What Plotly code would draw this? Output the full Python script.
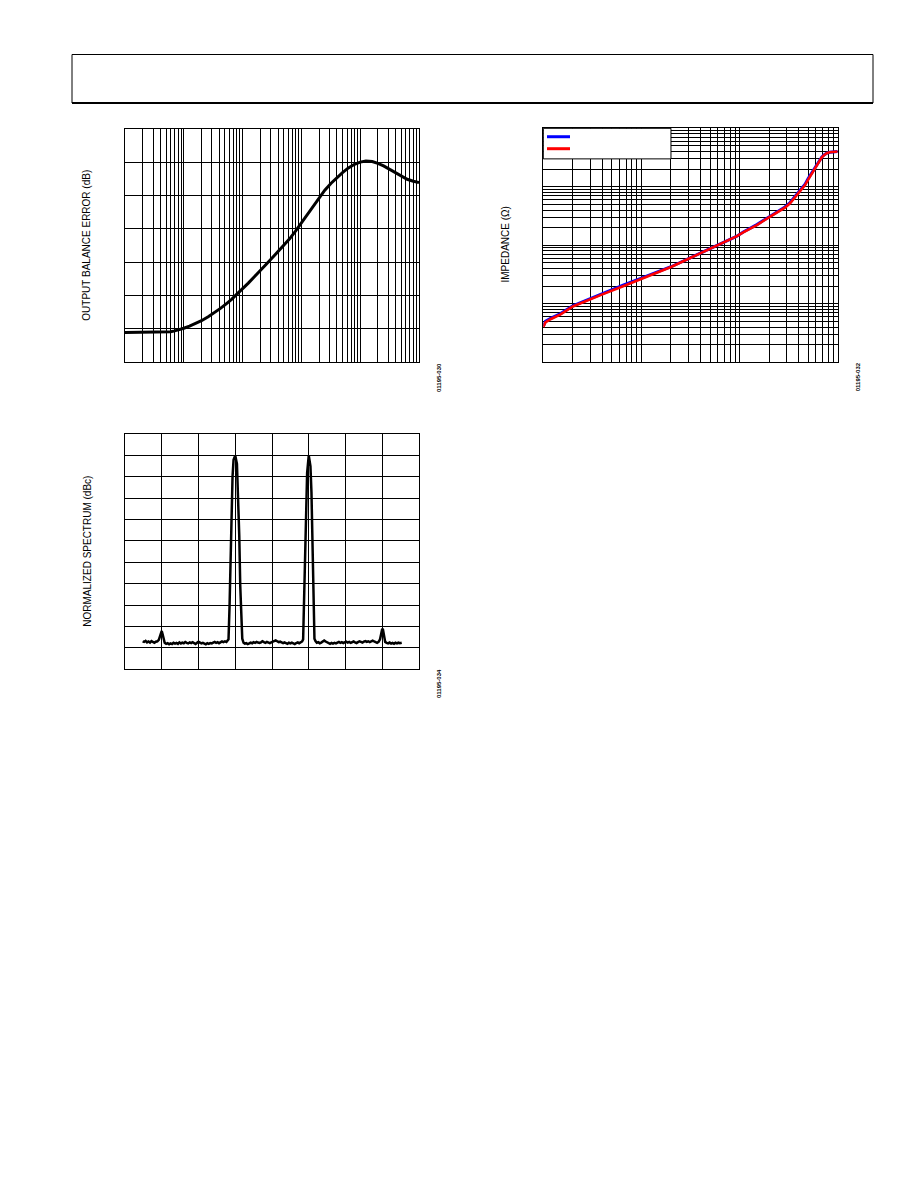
import math
import plotly.graph_objects as go

W, H = 918, 1188

# ---------------- Chart 1: output balance error vs frequency ----------------
bal_freq_mhz = [0.1, 0.2, 0.4, 0.5, 0.6, 0.7, 0.85, 1.0, 1.25, 1.6, 2.0, 2.6, 3.3, 4.2,
                5.2, 6.5, 8.0, 10, 12.5, 16, 20, 25, 32, 40, 50, 63, 80, 100, 125, 160,
                200, 250, 320, 400, 500, 630, 800, 1000, 1250, 1600, 2000, 2500, 3200,
                4000, 5000, 6300, 8000, 10000]
bal_err_db = [-61.1, -61.1, -61.1, -61.05, -60.9, -60.65, -60.25, -59.85, -59.2, -58.4,
              -57.6, -56.4, -55.2, -53.9, -52.6, -51.2, -49.6, -48.0, -46.3, -44.3,
              -42.6, -40.7, -38.7, -36.9, -35.1, -33.0, -30.6, -28.2, -25.8, -23.0,
              -20.6, -18.4, -16.3, -14.6, -13.1, -11.7, -10.6, -9.95, -9.6, -9.75,
              -10.3, -11.1, -12.2, -13.3, -14.3, -15.1, -15.7, -16.1]
bal_x_range = [0.1, 10000]
bal_y_range = [-70, 0]

# ---------------- Chart 2: impedance vs frequency ----------------
imp_freq_mhz = [0.1, 0.105, 0.12, 0.15, 0.2, 0.28, 0.4, 0.65, 1.0, 1.4, 2.0, 3.1, 4.6,
                6.8, 9.3, 10.9, 15.0, 20.5, 25.9, 29.0, 32.7, 36.0, 39.7, 46.5, 50.0,
                54.5, 61.2, 68.9, 73.0, 77.4, 83.0, 90.0, 100]
imp_blue_ohm = [0.041, 0.050, 0.057, 0.068, 0.092, 0.116, 0.152, 0.209, 0.275, 0.342,
                0.430, 0.605, 0.820, 1.10, 1.42, 1.69, 2.26, 3.14, 3.95, 4.52, 5.38,
                6.5, 8.0, 11.1, 13.8, 17.5, 24.1, 32.3, 35.3, 37.6, 39.0, 39.7, 40.1]
imp_red_ohm = [0.040, 0.048, 0.055, 0.066, 0.090, 0.112, 0.145, 0.200, 0.266, 0.335,
               0.425, 0.600, 0.815, 1.10, 1.42, 1.67, 2.22, 3.08, 3.86, 4.40, 5.22,
               6.3, 7.74, 10.7, 13.3, 17.0, 23.6, 31.9, 35.0, 37.4, 38.9, 39.6, 40.0]
imp_x_range = [0.1, 100]
imp_y_range = [0.01, 100]

# ---------------- Chart 3: normalized spectrum ----------------
spec_freq_mhz = [
    69.648, 69.652, 69.656, 69.660, 69.664, 69.668, 69.672, 69.676, 69.680, 69.684, 69.688, 69.692,
    69.695, 69.698, 69.700, 69.702, 69.705, 69.708,
    69.712, 69.716, 69.720, 69.724, 69.728, 69.732, 69.736, 69.740, 69.744, 69.748,
    69.752, 69.756, 69.760, 69.764, 69.768, 69.772, 69.776, 69.780, 69.784, 69.788,
    69.792, 69.796, 69.800, 69.804, 69.808, 69.812, 69.816, 69.820, 69.824, 69.828,
    69.832, 69.836, 69.840, 69.844, 69.848, 69.852, 69.856, 69.860, 69.864, 69.868,
    69.872, 69.876, 69.880,
    69.8817, 69.8845, 69.8864, 69.8891, 69.8926, 69.8954, 69.9000, 69.9046, 69.9074,
    69.9109, 69.9136, 69.9163, 69.9191,
    69.9226, 69.926, 69.930, 69.934, 69.938, 69.942, 69.946, 69.950, 69.954, 69.958,
    69.962, 69.966, 69.970, 69.974, 69.978, 69.982, 69.986, 69.990, 69.994, 69.998,
    70.002, 70.006, 70.010, 70.014, 70.018, 70.022, 70.026, 70.030, 70.034, 70.038,
    70.042, 70.046, 70.050, 70.054, 70.058, 70.062, 70.066, 70.070, 70.074, 70.078,
    70.082,
    70.0847, 70.0883, 70.0918, 70.0956, 70.1000, 70.1046, 70.1074, 70.1101, 70.1128,
    70.1155, 70.1183,
    70.122, 70.126, 70.130, 70.134, 70.138, 70.142, 70.146, 70.150, 70.154, 70.158,
    70.162, 70.166, 70.170, 70.174, 70.178, 70.182, 70.186, 70.190, 70.194, 70.198,
    70.202, 70.206, 70.210, 70.214, 70.218, 70.222, 70.226, 70.230, 70.234, 70.238,
    70.242, 70.246, 70.250, 70.254, 70.258, 70.262, 70.266, 70.270, 70.274, 70.278,
    70.282, 70.286, 70.290,
    70.294, 70.297, 70.300, 70.302, 70.305, 70.308,
    70.312, 70.316, 70.320, 70.324, 70.328, 70.332, 70.336, 70.340, 70.344, 70.348,
    70.353,
]
spec_level_dbc = [
    -86.9, -87.2, -86.7, -87.4, -87.0, -87.5, -86.8, -87.3, -87.6, -87.1, -86.9, -86.2,
    -84.6, -82.3, -82.1, -83.4, -86.0, -87.6,
    -88.1, -87.8, -88.3, -87.9, -88.2, -87.6, -88.0, -87.7, -88.1, -87.4,
    -87.9, -87.5, -87.8, -87.2, -87.6, -87.9, -87.4, -87.7, -87.3, -87.9,
    -88.2, -87.6, -87.1, -87.5, -87.9, -87.6, -88.0, -88.3, -87.8, -88.1,
    -87.7, -87.9, -87.5, -87.2, -87.6, -87.3, -87.8, -87.4, -87.0, -87.3,
    -86.9, -87.2, -86.6,
    -86.0, -70.5, -53.3, -30.0, -10.0, -2.0, 0.0, -4.0, -15.9,
    -37.5, -61.0, -76.6, -85.7,
    -87.6, -88.0, -87.8, -88.2, -87.9, -87.5, -87.8, -87.3, -87.6, -87.2,
    -87.5, -87.7, -87.4, -86.9, -87.3, -87.6, -87.2, -87.5, -87.8, -87.4,
    -87.1, -86.8, -86.5, -86.9, -87.3, -87.1, -87.5, -87.8, -87.4, -87.9,
    -88.1, -87.6, -87.9, -87.5, -87.8, -88.2, -87.7, -87.4, -87.8, -87.3,
    -87.0,
    -86.0, -57.9, -29.9, -8.1, 0.0, -5.0, -17.4, -39.3, -64.2,
    -85.7, -86.8,
    -87.6, -87.3, -87.8, -87.5, -86.9, -86.5, -87.0, -87.4, -87.8, -88.1,
    -87.7, -88.0, -87.6, -87.9, -87.5, -87.2, -87.6, -87.3, -87.7, -87.4,
    -87.1, -87.5, -87.2, -87.6, -87.3, -87.0, -87.4, -87.7, -87.3, -86.9,
    -87.2, -87.5, -87.1, -86.8, -87.2, -86.9, -87.3, -87.0, -86.6, -87.0,
    -87.4, -87.6, -87.2,
    -86.0, -83.5, -81.0, -81.5, -85.0, -87.2,
    -87.6, -87.9, -87.5, -88.0, -87.7, -88.1, -87.6, -87.9, -87.5, -87.8,
    -87.6,
]
spec_x_range = [69.6, 70.4]
spec_y_range = [-100, 10]

# Text
title_bal = "OUTPUT BALANCE ERROR (dB)"
title_imp = "IMPEDANCE (Ω)"
title_spec = "NORMALIZED SPECTRUM (dBc)"
code_bal = "01195-030"
code_imp = "01195-032"
code_spec = "01195-034"


def log_grid(lo_exp, hi_exp):
    vals = []
    for e in range(lo_exp, hi_exp):
        for m in range(1, 10):
            vals.append(m * 10.0 ** e)
    vals.append(10.0 ** hi_exp)
    return vals


def px(x):
    return x / W


def py(y):
    return 1 - y / H


FONT = "Liberation Sans, Arial, sans-serif"
axis_common = dict(showline=True, mirror=True, linecolor="black", linewidth=1,
                   showgrid=True, gridcolor="black", gridwidth=1, ticks="",
                   showticklabels=False, zeroline=False, fixedrange=True)

fig = go.Figure()

fig.add_trace(go.Scatter(x=bal_freq_mhz, y=bal_err_db, mode="lines",
                         line=dict(color="black", width=3),
                         xaxis="x", yaxis="y", showlegend=False))

fig.add_trace(go.Scatter(x=imp_freq_mhz, y=imp_blue_ohm, mode="lines",
                         line=dict(color="#0000ff", width=3),
                         xaxis="x2", yaxis="y2", showlegend=False))
fig.add_trace(go.Scatter(x=imp_freq_mhz, y=imp_red_ohm, mode="lines",
                         line=dict(color="#ff0000", width=2.6),
                         xaxis="x2", yaxis="y2", showlegend=False))

fig.add_trace(go.Scatter(x=spec_freq_mhz, y=spec_level_dbc, mode="lines",
                         line=dict(color="black", width=2.5),
                         xaxis="x3", yaxis="y3", showlegend=False))

fig.update_layout(
    width=W, height=H, template="none",
    paper_bgcolor="white", plot_bgcolor="white",
    margin=dict(l=0, r=0, t=0, b=0),
    font=dict(family=FONT, color="black"),
    xaxis=dict(axis_common, type="log", domain=[px(125), px(419)], anchor="y",
               range=[math.log10(bal_x_range[0]), math.log10(bal_x_range[1])],
               tickmode="array", tickvals=log_grid(-1, 4)),
    yaxis=dict(axis_common, domain=[py(362), py(129)], anchor="x",
               range=bal_y_range, tickmode="linear", tick0=-70, dtick=10),
    xaxis2=dict(axis_common, type="log", domain=[px(543.3), px(837.7)], anchor="y2",
                range=[math.log10(imp_x_range[0]), math.log10(imp_x_range[1])],
                tickmode="array", tickvals=log_grid(-1, 2)),
    yaxis2=dict(axis_common, type="log", domain=[py(362.3), py(128.3)], anchor="x2",
                range=[math.log10(imp_y_range[0]), math.log10(imp_y_range[1])],
                tickmode="array", tickvals=log_grid(-2, 2)),
    xaxis3=dict(axis_common, domain=[px(125), px(419)], anchor="y3",
                range=spec_x_range, tickmode="linear", tick0=69.6, dtick=0.1),
    yaxis3=dict(axis_common, domain=[py(669.3), py(434)], anchor="x3",
                range=spec_y_range, tickmode="linear", tick0=-100, dtick=10),
)

# legend box edges fall on the grid lines at 2 MHz and 30 ohm
leg_x1 = math.log10(2 / imp_x_range[0]) / math.log10(imp_x_range[1] / imp_x_range[0])
leg_y0 = math.log10(30 / imp_y_range[0]) / math.log10(imp_y_range[1] / imp_y_range[0])

shapes = [
    # header box
    dict(type="rect", xref="paper", yref="paper", x0=px(72), x1=px(873),
         y0=py(103), y1=py(54.5), line=dict(color="black", width=1)),
    dict(type="line", xref="paper", yref="paper", x0=px(72), x1=px(873),
         y0=py(103), y1=py(103), line=dict(color="black", width=2)),
    # legend box on impedance chart
    dict(type="rect", xref="x2 domain", yref="y2 domain", x0=0.0, x1=leg_x1,
         y0=leg_y0, y1=1.0, fillcolor="white", line=dict(color="black", width=1),
         layer="above"),
    dict(type="line", xref="x2 domain", yref="y2 domain", x0=0.0126, x1=0.0907,
         y0=0.964, y1=0.964, line=dict(color="#0000ff", width=3), layer="above"),
    dict(type="line", xref="x2 domain", yref="y2 domain", x0=0.0126, x1=0.0907,
         y0=0.9128, y1=0.9128, line=dict(color="#ff0000", width=3), layer="above"),
]
fig.update_layout(shapes=shapes)

ann = [
    dict(text=title_bal, x=px(86.7), y=py(245), textangle=-90, size=10),
    dict(text=title_imp, x=px(505.5), y=py(245), textangle=-90, size=10),
    dict(text=title_spec, x=px(86.7), y=py(551), textangle=-90, size=10),
    dict(text="<b>" + code_bal + "</b>", x=px(439), y=py(378), textangle=-90, size=6),
    dict(text="<b>" + code_imp + "</b>", x=px(858.3), y=py(377), textangle=-90, size=6),
    dict(text="<b>" + code_spec + "</b>", x=px(439), y=py(684), textangle=-90, size=6),
]
fig.update_layout(annotations=[
    dict(text=a["text"], x=a["x"], y=a["y"], xref="paper", yref="paper",
         xanchor="center", yanchor="middle", showarrow=False, textangle=a["textangle"],
         font=dict(family=FONT, size=a["size"], color="black"))
    for a in ann
])

fig.write_html("out.html", config={"displayModeBar": False},
               post_script="document.body.style.margin='0px';")
